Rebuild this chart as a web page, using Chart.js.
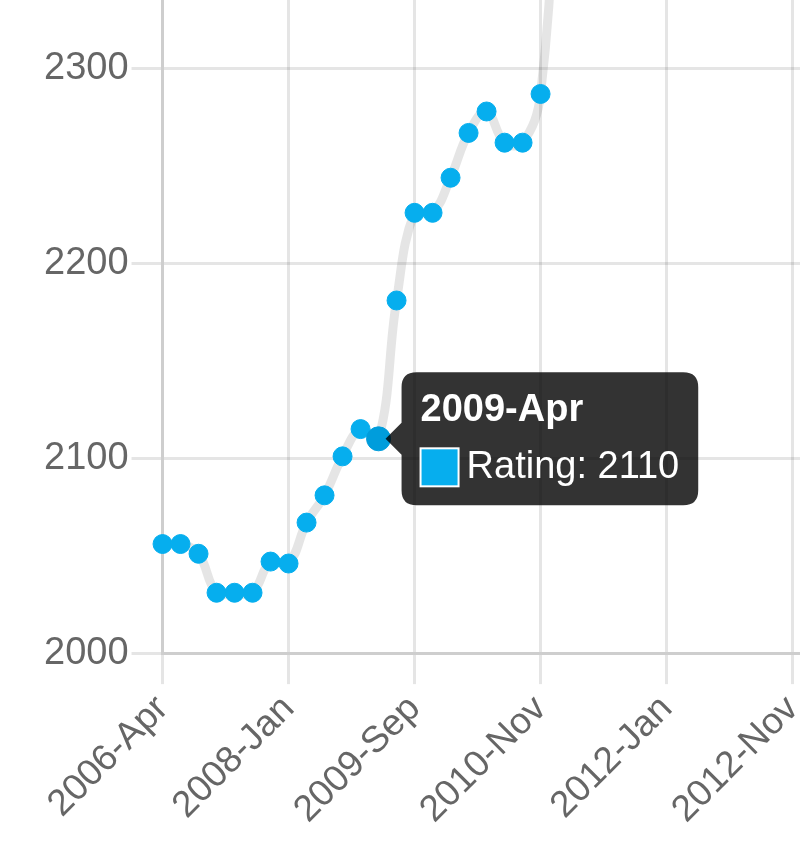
<!DOCTYPE html>
<html>
<head>
<meta charset="utf-8">
<script src="https://cdn.jsdelivr.net/npm/chart.js@4/dist/chart.umd.min.js"></script>
<style>
  html, body { margin: 0; padding: 0; background: #fff; }
  #view { position: relative; width: 800px; height: 849px; overflow: hidden; }
  #box { position: absolute; left: 0; top: 0; width: 1000px; height: 1000px; }
</style>
</head>
<body>
<div id="view"><div id="box"><canvas id="rating"></canvas></div></div>
<script>
// rating lists (quarterly, then bimonthly, then monthly)
const periods = [
    '2006-Apr', '2006-Jul', '2006-Oct', '2007-Jan', '2007-Apr', '2007-Jul', '2007-Oct',
    '2008-Jan', '2008-Apr', '2008-Jul', '2008-Oct', '2009-Jan', '2009-Apr', '2009-Jul',
    '2009-Sep', '2009-Nov', '2010-Jan', '2010-Mar', '2010-May', '2010-Jul', '2010-Sep',
    '2010-Nov', '2011-Jan', '2011-Mar', '2011-May', '2011-Jul', '2011-Sep', '2011-Nov',
    '2012-Jan', '2012-Mar', '2012-May', '2012-Jul', '2012-Aug', '2012-Sep', '2012-Oct',
    '2012-Nov', '2012-Dec', '2013-Jan', '2013-Feb', '2013-Mar', '2013-Apr', '2013-May',
    '2013-Jun'
];
const ratings = [
    2056, 2056, 2051, 2031, 2031, 2031, 2047,
    2046, 2067, 2081, 2101, 2115, 2110, 2181,
    2226, 2226, 2244, 2267, 2278, 2262, 2262,
    2287, 2420
];
const yTicks = [2000, 2100, 2200, 2300, 2400];
const hoverIndex = 12;

// crop of the original chart: where 2000 / first list sit in the picture
const ANCHOR_X = 163, ANCHOR_Y = 652.7;
const STEP_X = 18, PX_PER_POINT = 1.948;

const font = { family: '"Liberation Sans", Arial, Helvetica, sans-serif' };
const gridColor = 'rgba(0, 0, 0, 0.1)';
const blue = '#06AEEE';

const box = document.getElementById('box');
const ctx = document.getElementById('rating').getContext('2d');

const chart = new Chart(ctx, {
    type: 'line',
    data: {
        labels: periods,
        datasets: [{
            label: 'Rating',
            data: ratings,
            borderColor: 'rgba(0, 0, 0, 0.1)',
            borderWidth: 9,
            tension: 0.4,
            fill: false,
            pointRadius: 9.5,
            pointHoverRadius: 12,
            pointBackgroundColor: blue,
            pointBorderColor: blue,
            pointBorderWidth: 1,
            pointHoverBorderWidth: 1
        }]
    },
    options: {
        responsive: true,
        maintainAspectRatio: false,
        animation: false,
        events: [],
        layout: { padding: 0 },
        plugins: {
            legend: { display: false },
            tooltip: {
                backgroundColor: 'rgba(0, 0, 0, 0.8)',
                titleFont: { ...font, size: 38, weight: 'bold', lineHeight: 1 },
                bodyFont: { ...font, size: 38, lineHeight: 1 },
                titleColor: '#fff',
                bodyColor: '#fff',
                titleMarginBottom: 19,
                padding: 19,
                caretSize: 16,
                caretPadding: 7,
                cornerRadius: 15,
                boxWidth: 38,
                boxHeight: 38,
                boxPadding: 6,
                multiKeyBackground: '#fff',
                callbacks: {
                    label: (item) => item.dataset.label + ': ' + item.raw,
                    labelColor: () => ({ borderColor: '#fff', backgroundColor: blue, borderWidth: 2 })
                }
            }
        },
        scales: {
            x: {
                ticks: {
                    autoSkip: false,
                    minRotation: 45,
                    maxRotation: 45,
                    padding: 3,
                    color: '#666',
                    font: { ...font, size: 37 },
                    callback: (v, i) => (i % 7 === 0 ? periods[i] : '')
                },
                grid: {
                    color: (c) => (c.index % 7 === 0 ? gridColor : 'rgba(0,0,0,0)'),
                    lineWidth: 3,
                    tickLength: 31
                },
                border: { color: gridColor, width: 3 }
            },
            y: {
                min: yTicks[0],
                max: yTicks[yTicks.length - 1],
                ticks: {
                    stepSize: 100,
                    padding: 3,
                    color: '#666',
                    font: { ...font, size: 38 },
                    callback: (v) => String(v)
                },
                grid: { color: gridColor, lineWidth: 3, tickLength: 31 },
                border: { color: gridColor, width: 3 }
            }
        }
    }
});

// size the plot so one list is STEP_X wide and 1 point is PX_PER_POINT tall, then shift it into place
function fit() {
    const xs = chart.scales.x, ys = chart.scales.y;
    const wantW = (periods.length - 1) * STEP_X;
    const wantH = (yTicks[yTicks.length - 1] - yTicks[0]) * PX_PER_POINT;
    box.style.width = (box.clientWidth + wantW - (xs.right - xs.left)) + 'px';
    box.style.height = (box.clientHeight + wantH - (ys.bottom - ys.top)) + 'px';
    chart.resize();
}
fit();
fit();
box.style.left = (ANCHOR_X - chart.scales.x.getPixelForValue(0)) + 'px';
box.style.top = (ANCHOR_Y - chart.scales.y.getPixelForValue(yTicks[0])) + 'px';

const active = [{ datasetIndex: 0, index: hoverIndex }];
chart.setActiveElements(active);
chart.tooltip.setActiveElements(active, { x: 0, y: 0 });
chart.update('none');
</script>
</body>
</html>
